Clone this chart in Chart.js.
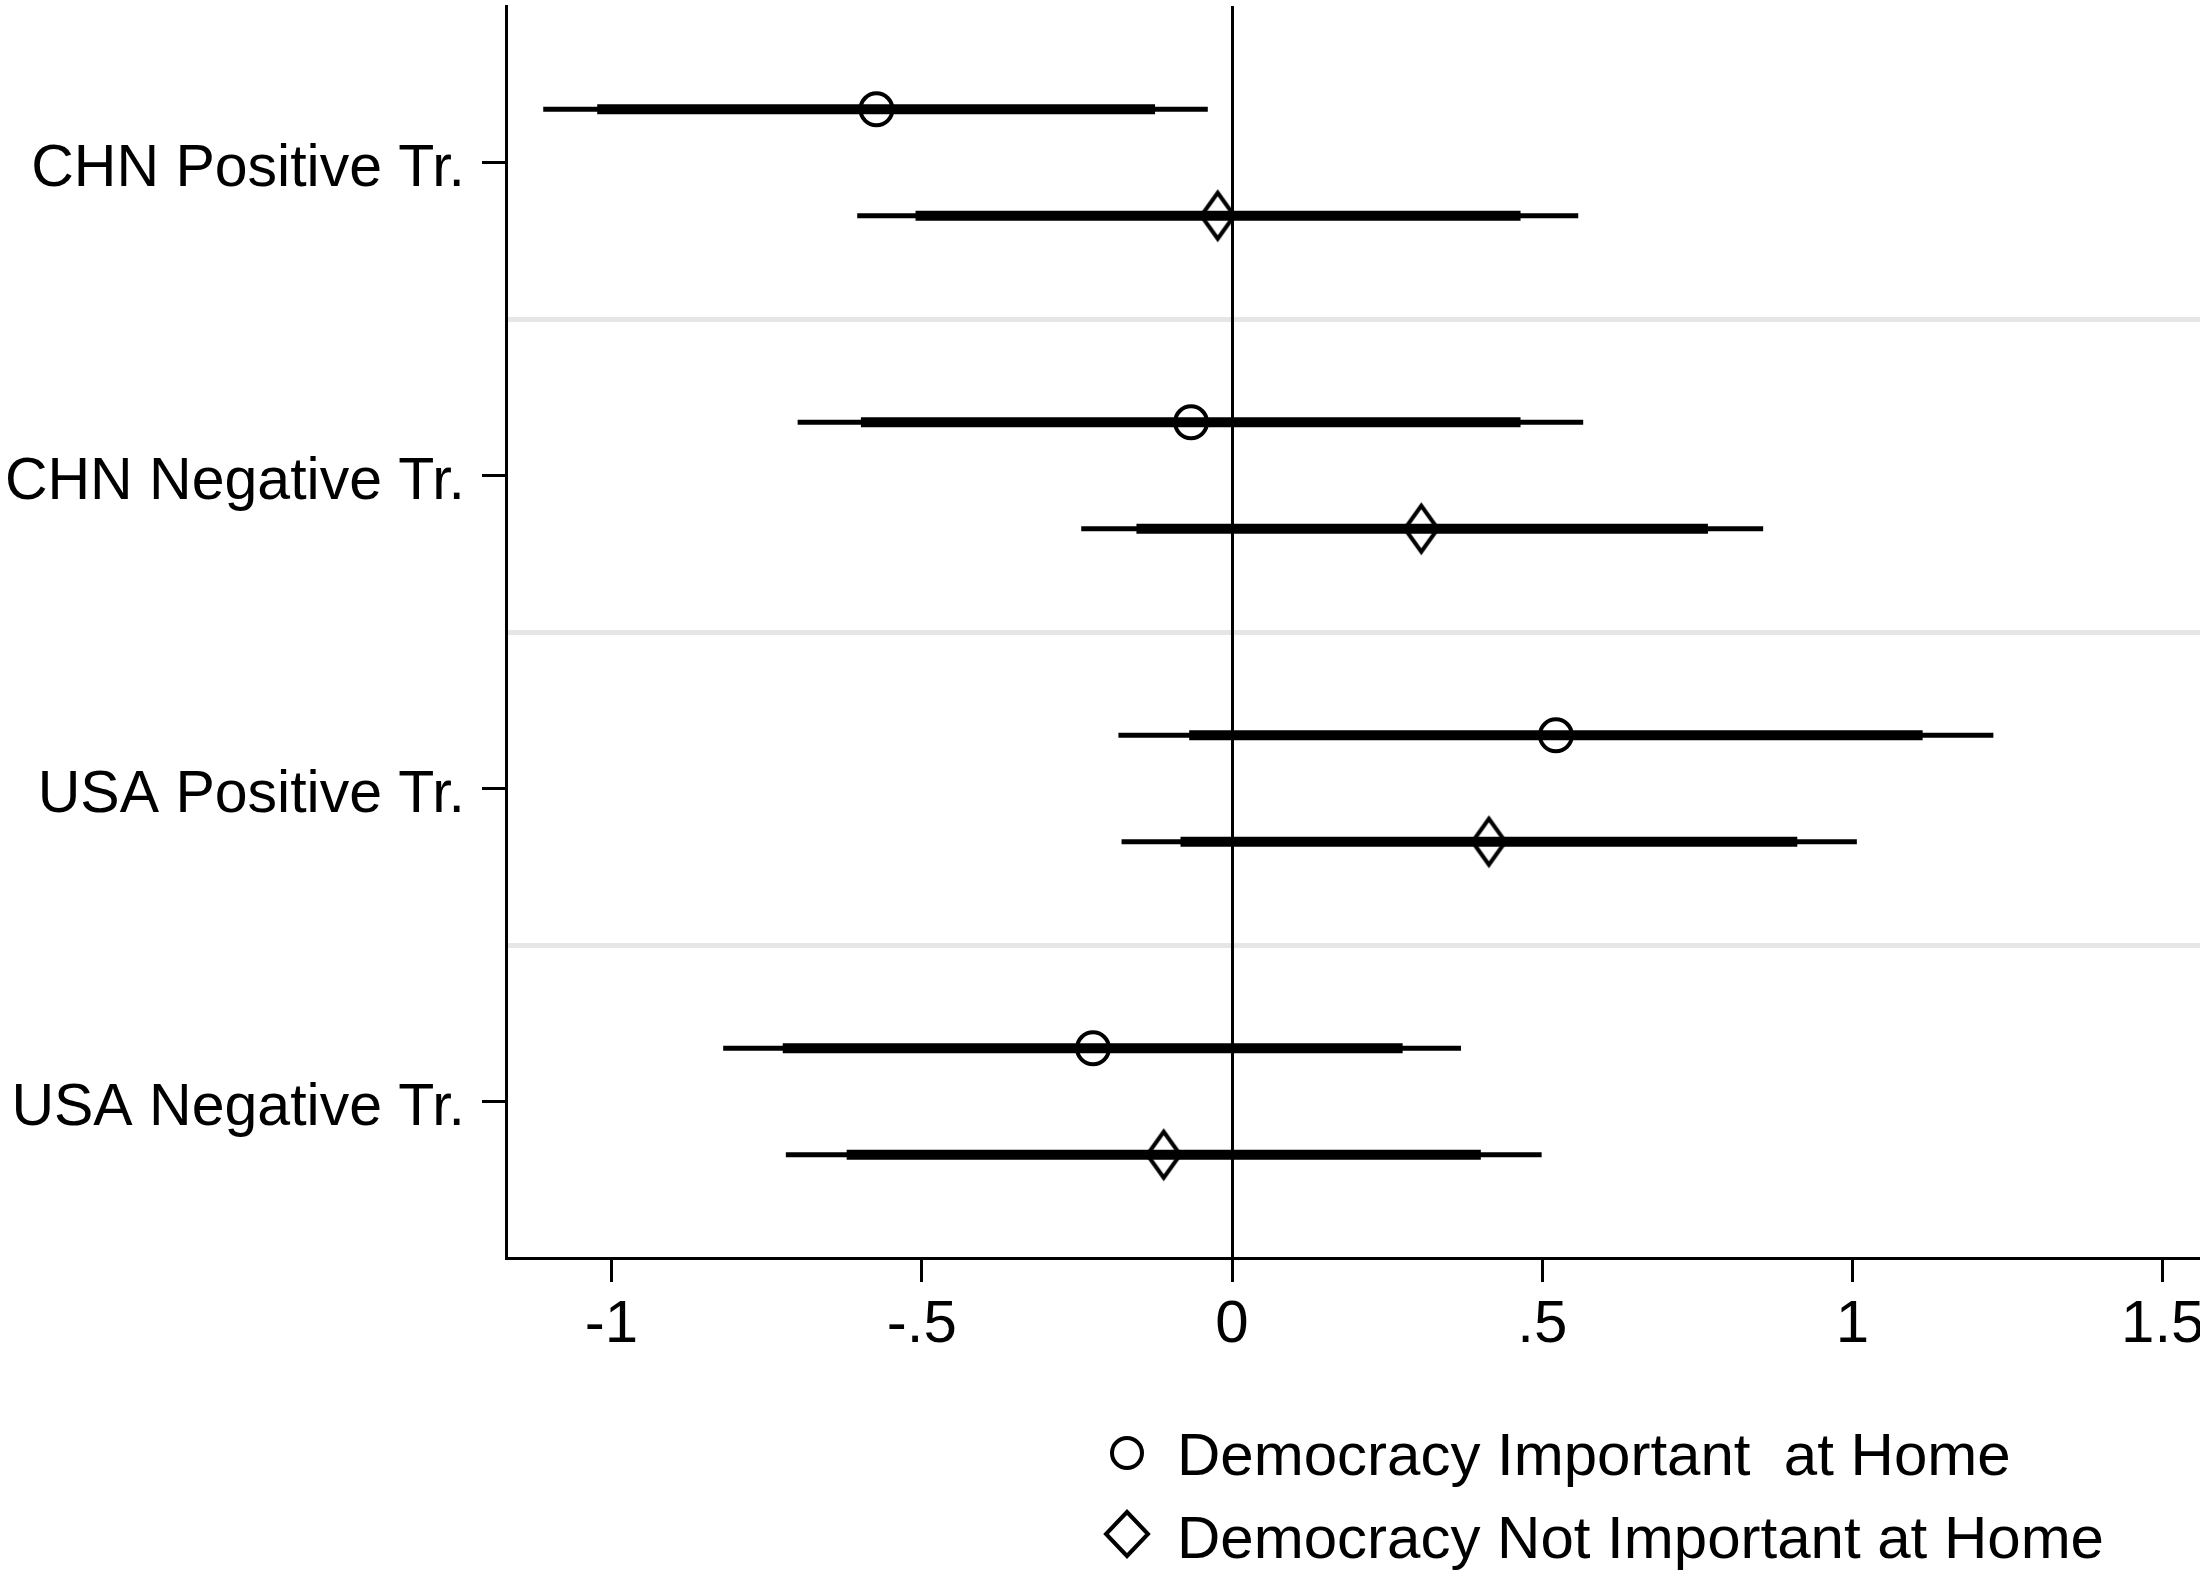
<!DOCTYPE html>
<html>
<head>
<meta charset="utf-8">
<script src="https://cdn.jsdelivr.net/npm/chart.js@4.4.1/dist/chart.umd.min.js"></script>
<style>
  html, body { margin: 0; padding: 0; background: #fff; overflow: hidden; }
  canvas { display: block; }
</style>
</head>
<body>
<canvas id="chart" width="2200" height="1575"></canvas>
<script>
// Rows, top to bottom
const categories = ['CHN Positive Tr.', 'CHN Negative Tr.', 'USA Positive Tr.', 'USA Negative Tr.'];

// Democracy Important at Home: point estimate, inner (thick) and outer (thin) intervals
const impEst   = [-0.573, -0.066,  0.522, -0.224];
const impLoIn  = [-1.023, -0.598, -0.069, -0.724];
const impHiIn  = [-0.124,  0.465,  1.113,  0.275];
const impLoOut = [-1.110, -0.700, -0.183, -0.820];
const impHiOut = [-0.039,  0.566,  1.227,  0.369];

// Democracy Not Important at Home
const notEst   = [-0.023,  0.305,  0.414, -0.110];
const notLoIn  = [-0.510, -0.154, -0.083, -0.621];
const notHiIn  = [ 0.465,  0.767,  0.911,  0.401];
const notLoOut = [-0.604, -0.243, -0.178, -0.719];
const notHiOut = [ 0.558,  0.856,  1.007,  0.499];

// x axis ticks
const xTicks = [-1, -0.5, 0, 0.5, 1, 1.5];
const xTickLabels = ['-1', '-.5', '0', '.5', '1', '1.5'];

const legendLabels = ['Democracy Important  at Home', 'Democracy Not Important at Home'];

// layout bits
const rowOffset = 0.17;
const FONT = "'Liberation Sans', Arial, Helvetica, sans-serif";

Chart.defaults.font.family = FONT;
Chart.defaults.font.size = 60;
Chart.defaults.color = '#000';

// hollow diamond marker (a bit taller than wide)
function makeDiamond(w, h, lw) {
  const c = document.createElement('canvas');
  c.width = w + 10;
  c.height = h + 10;
  const g = c.getContext('2d');
  const cx = c.width / 2, cy = c.height / 2;
  g.beginPath();
  g.moveTo(cx, cy - h / 2);
  g.lineTo(cx + w / 2, cy);
  g.lineTo(cx, cy + h / 2);
  g.lineTo(cx - w / 2, cy);
  g.closePath();
  g.lineWidth = lw;
  g.strokeStyle = '#000';
  g.stroke();
  return c;
}
const diamond = makeDiamond(33, 46, 4);

// one dataset per interval line
function intervalSets(lo, hi, shift, width) {
  return lo.map((v, i) => ({
    type: 'line',
    data: [{ x: v, y: i + 1 + shift }, { x: hi[i], y: i + 1 + shift }],
    borderColor: '#000',
    borderWidth: width,
    borderCapStyle: 'butt',
    pointRadius: 0,
    showLine: true
  }));
}

const datasets = [
  ...intervalSets(impLoOut, impHiOut, -rowOffset, 5),
  ...intervalSets(notLoOut, notHiOut, rowOffset, 5),
  ...intervalSets(impLoIn, impHiIn, -rowOffset, 10),
  ...intervalSets(notLoIn, notHiIn, rowOffset, 10),
  {
    label: legendLabels[0],
    data: impEst.map((v, i) => ({ x: v, y: i + 1 - rowOffset })),
    pointStyle: 'circle',
    pointRadius: 16,
    pointBorderWidth: 4,
    pointBorderColor: '#000',
    pointBackgroundColor: 'rgba(0,0,0,0)'
  },
  {
    label: legendLabels[1],
    data: notEst.map((v, i) => ({ x: v, y: i + 1 + rowOffset })),
    pointStyle: diamond,
    pointRadius: 22
  }
];

// legend drawn under the axis, two stacked rows
const stackedLegend = {
  id: 'stackedLegend',
  afterDraw(chart) {
    const ctx = chart.ctx;
    ctx.save();
    ctx.fillStyle = '#000';
    ctx.strokeStyle = '#000';
    ctx.font = '60px ' + FONT;
    ctx.textBaseline = 'alphabetic';
    ctx.textAlign = 'left';
    // circle row
    ctx.lineWidth = 4;
    ctx.beginPath();
    ctx.arc(1127, 1453, 15, 0, Math.PI * 2);
    ctx.stroke();
    ctx.fillText(legendLabels[0], 1177, 1475);
    // diamond row
    ctx.beginPath();
    ctx.moveTo(1127, 1512);
    ctx.lineTo(1148, 1534);
    ctx.lineTo(1127, 1556);
    ctx.lineTo(1106, 1534);
    ctx.closePath();
    ctx.stroke();
    ctx.fillText(legendLabels[1], 1177, 1558);
    ctx.restore();
  }
};

new Chart(document.getElementById('chart'), {
  type: 'scatter',
  data: { datasets: datasets },
  options: {
    responsive: false,
    animation: false,
    devicePixelRatio: 1,
    layout: { autoPadding: false, padding: { top: 6, right: 0, bottom: 0, left: 0 } },
    plugins: {
      legend: { display: false },
      tooltip: { enabled: false }
    },
    scales: {
      yGrid: {
        type: 'linear',
        position: 'right',
        min: 0.5,
        max: 4.5,
        reverse: true,
        afterBuildTicks: s => { s.ticks = [1.5, 2.5, 3.5].map(v => ({ value: v })); },
        afterFit: s => { s.width = 0; s.paddingTop = 0; s.paddingBottom = 0; },
        ticks: { display: false },
        grid: { color: '#e6e6e6', lineWidth: 5, drawTicks: false, z: -1 },
        border: { display: false }
      },
      y: {
        type: 'linear',
        position: 'left',
        min: 0.5,
        max: 4.5,
        reverse: true,
        afterBuildTicks: s => { s.ticks = categories.map((c, i) => ({ value: i + 1 })); },
        afterFit: s => { s.width = 506; s.paddingTop = 0; s.paddingBottom = 0; },
        ticks: {
          padding: 17,
          labelOffset: 7,
          font: { size: 59 },
          callback: v => categories[v - 1]
        },
        grid: { drawOnChartArea: false, tickLength: 24, tickWidth: 3, tickColor: '#000' },
        border: { color: '#000', width: 3 }
      },
      x: {
        type: 'linear',
        position: 'bottom',
        min: -1.17,
        max: 1.56,
        afterBuildTicks: s => { s.ticks = xTicks.map(v => ({ value: v })); },
        afterFit: s => { s.height = 317; s.paddingLeft = 0; s.paddingRight = 0; },
        ticks: {
          padding: 7,
          maxRotation: 0,
          callback: v => xTickLabels[xTicks.indexOf(v)]
        },
        grid: {
          color: c => (c.tick && c.tick.value === 0 ? '#000' : 'rgba(0,0,0,0)'),
          lineWidth: 3,
          tickLength: 24,
          tickWidth: 3,
          tickColor: '#000'
        },
        border: { color: '#000', width: 3 }
      }
    }
  },
  plugins: [stackedLegend]
});
</script>
</body>
</html>
